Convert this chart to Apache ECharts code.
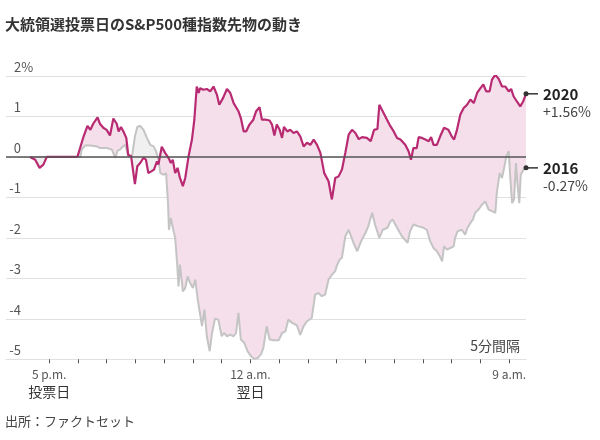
<!DOCTYPE html>
<html>
<head>
<meta charset="utf-8">
<script src="https://cdn.jsdelivr.net/npm/echarts@6/dist/echarts.min.js"></script>
<style>html,body{margin:0;padding:0;background:#fff}#c{width:600px;height:440px}</style>
</head>
<body>
<div id="c"></div>
<script>
// minutes relative to 5 p.m. on election day
const t2020 = [-40,-29,-20,-12,-5,59,72,80,86,92,101,106,113,120,127,134,141,145,150,155,161,165,171,179,184,190,197,202,207,214,219,225,228,235,242,249,254,258,263,268,273,279,284,291,298,303,308,312,315,322,329,336,343,350,355,363,371,378,385,395,400,406,411,418,426,432,439,444,453,460,465,470,475,481,486,490,497,503,510,517,524,531,538,545,552,559,566,574,583,590,597,604,611,618,625,632,639,646,653,663,671,678,685,689,696,705,712,719,726,733,743,750,755,760,767,771,778,785,792,797,802,809,816,824,833,840,845,851,858,865,872,879,886,893,900,906,912,919,924,931,938,945,952,959,964,969,976,983,989,995];
const v2020 = [0,-0.07,-0.27,-0.19,0,0,0.51,0.77,0.67,0.82,0.98,0.82,0.72,0.67,0.53,0.95,0.82,0.63,0.74,0.63,0.47,0.05,0.02,-0.67,-0.23,-0.15,-0.02,-0.07,-0.4,-0.35,-0.31,-0.11,-0.19,0.25,0.1,-0.02,-0.15,-0.07,-0.4,-0.27,-0.52,-0.72,-0.52,0.02,0.43,0.92,1.74,1.58,1.7,1.66,1.68,1.62,1.74,1.54,1.29,1.46,1.68,1.58,1.33,1.13,0.96,0.63,0.63,0.8,0.92,1.13,1.23,0.92,0.92,0.9,0.8,0.53,0.8,0.67,0.47,0.74,0.63,0.67,0.59,0.63,0.51,0.26,0.35,0.3,0.43,0.3,0.1,-0.4,-0.6,-1.05,-0.52,-0.48,-0.31,0.1,0.55,0.67,0.59,0.44,0.49,0.47,0.39,0.67,0.69,1.29,1.13,0.92,0.76,0.63,0.47,0.43,0.3,0.14,-0.07,0.22,0.22,0.49,0.47,0.43,0.39,0.49,0.3,0.3,0.51,0.72,0.67,0.51,0.43,0.67,1.05,1.21,1.29,1.42,1.33,1.58,1.7,1.79,1.62,1.62,1.91,2.03,1.93,1.74,1.74,1.62,1.68,1.5,1.37,1.25,1.37,1.56];
const t2016 = [-40,65,68,75,86,100,106,120,131,138,143,148,154,159,165,173,179,184,190,197,204,211,218,223,228,232,239,244,248,250,254,259,263,267,270,273,279,284,289,294,300,305,310,315,319,324,329,335,340,346,353,360,365,371,378,385,390,395,400,407,414,421,428,435,442,447,454,460,468,479,486,493,499,507,517,524,531,538,548,555,562,569,576,583,590,597,600,606,611,618,625,635,643,651,660,666,674,680,689,696,706,712,717,726,736,748,753,760,769,781,788,795,802,809,815,820,824,830,837,844,847,852,861,868,873,879,884,889,896,903,910,917,924,931,934,940,945,950,954,959,962,966,970,974,977,981,984,990,995];
const v2016 = [0,0,0.18,0.28,0.28,0.26,0.22,0.22,0.18,-0.02,0.16,0.18,0.26,0.3,0.02,0.02,0.51,0.74,0.77,0.67,0.47,0.3,0.26,0.14,-0.07,-0.4,-0.44,-0.4,-1.12,-1.8,-1.51,-1.8,-2.0,-2.62,-3.2,-2.66,-3.32,-3.24,-2.95,-3.11,-3.24,-3.03,-3.52,-3.89,-4.18,-3.77,-4.43,-4.8,-4.35,-4.0,-4.02,-4.43,-4.35,-4.43,-4.39,-4.43,-4.35,-3.85,-4.51,-4.59,-4.8,-4.92,-4.99,-4.97,-4.88,-4.72,-4.18,-4.51,-4.53,-4.53,-4.35,-4.31,-4.02,-4.1,-4.16,-4.4,-4.18,-4.06,-3.98,-3.4,-3.36,-3.44,-3.4,-3.03,-2.91,-2.82,-2.7,-2.54,-2.49,-1.96,-1.8,-2.12,-2.33,-2.08,-1.88,-1.71,-1.38,-1.67,-2.0,-1.8,-1.75,-1.59,-1.55,-1.75,-1.96,-2.12,-1.84,-1.67,-1.71,-1.75,-1.8,-2.08,-2.25,-2.33,-2.45,-2.58,-2.21,-2.29,-2.25,-2.21,-2.0,-1.84,-1.8,-1.92,-1.75,-1.63,-1.55,-1.38,-1.3,-1.18,-1.1,-1.3,-1.34,-1.38,-0.89,-0.4,-0.52,-0.23,0.02,0.14,-0.48,-1.14,-1.05,-0.15,-0.64,-1.14,-0.44,-0.31,-0.27];
const hourTicks = [0,60,120,180,240,300,360,420,480,540,600,660,720,780,840,900,960];
const xLabelValues = [0,420,960];
const xLabelTimes = ['5 p.m.','12 a.m.','9 a.m.'];
const xLabelDays = ['投票日','翌日',''];
const yTickLabels = ['-5','-4','-3','-2','-1','0','1','2%'];
const seriesNames = ['2020','2016'];
const endValues = ['+1.56%','-0.27%'];
const titleText = '大統領選投票日のS&P500種指数先物の動き';
const sourceText = '出所：ファクトセット';
const intervalNote = '5分間隔';

const FONT = "'Noto Sans CJK JP', 'Noto Sans', sans-serif";
const MAGENTA = '#b82a72';
const GRAYLINE = '#c4c4c4';

function interp(ts, vs, t) {
  if (t <= ts[0]) return vs[0];
  for (let i = 1; i < ts.length; i++) {
    if (t <= ts[i]) {
      const f = (t - ts[i-1]) / (ts[i] - ts[i-1]);
      return vs[i-1] + (vs[i] - vs[i-1]) * f;
    }
  }
  return vs[vs.length-1];
}

function buildSamples() {
  const lo = Math.max(t2020[0], t2016[0]);
  const hi = Math.min(t2020[t2020.length-1], t2016[t2016.length-1]);
  const T = Array.from(new Set(t2020.concat(t2016))).filter(t => t >= lo && t <= hi).sort((a,b)=>a-b);
  const S = [];
  T.forEach((t) => {
    const a = interp(t2020, v2020, t), b = interp(t2016, v2016, t);
    if (S.length) {
      const p = S[S.length-1];
      const d0 = p.a - p.b, d1 = a - b;
      if (d0 * d1 < 0) {
        const f = d0 / (d0 - d1);
        const tc = p.t + (t - p.t) * f;
        const ac = p.a + (a - p.a) * f;
        S.push({t: tc, a: ac, b: ac});
      }
    }
    S.push({t, a, b});
  });
  return S;
}

const chart = echarts.init(document.getElementById('c'), null, {renderer: 'canvas'});
const lastIdx20 = t2020.length - 1, lastIdx16 = t2016.length - 1;

function endLabel(i) {
  return {
    show: true,
    distance: 0,
    formatter: '{e|}\n{l|}{a|' + seriesNames[i] + '}\n{b|' + endValues[i] + '}',
    rich: {
      e: {height: 18, lineHeight: 18},
      l: {width: 12, height: 1.5, backgroundColor: '#333'},
      a: {fontFamily: FONT, fontSize: 15, fontWeight: 'bold', color: '#222', padding: [0,0,0,5], lineHeight: 18},
      b: {fontFamily: FONT, fontSize: 14, color: '#444', padding: [0,0,0,17], lineHeight: 18}
    }
  };
}

chart.setOption({
  animation: false,
  backgroundColor: '#fff',
  textStyle: {fontFamily: FONT},
  title: [
    {text: titleText, left: 5, top: 17, padding: 0, textStyle: {fontFamily: FONT, fontSize: 15, fontWeight: 'bold', color: '#333'}},
    {text: sourceText, left: 5, top: 415, padding: 0, textStyle: {fontFamily: FONT, fontSize: 13, fontWeight: 'normal', color: '#444'}},
    {text: intervalNote, right: 80, top: 339, padding: 0, textStyle: {fontFamily: FONT, fontSize: 14, fontWeight: 'normal', color: '#444'}}
  ],
  grid: {left: 6, right: 74, top: 76, bottom: 80.7, containLabel: false},
  xAxis: {
    type: 'value', min: -90, max: 995,
    axisLine: {show: true, onZero: false, lineStyle: {color: '#e0e0e0', width: 1}},
    splitLine: {show: false},
    axisTick: {show: true, customValues: hourTicks, length: 4, lineStyle: {color: '#555', width: 1}},
    axisLabel: {
      show: true, customValues: xLabelValues, margin: 7,
      formatter: function (v) {
        const i = xLabelValues.indexOf(v);
        if (i < 0) return '';
        return '{t|' + xLabelTimes[i] + '}' + (xLabelDays[i] ? '\n{j|' + xLabelDays[i] + '}' : '');
      },
      rich: {
        t: {fontFamily: FONT, fontSize: 12, color: '#555', lineHeight: 16},
        j: {fontFamily: FONT, fontSize: 14, color: '#333', lineHeight: 18}
      }
    }
  },
  yAxis: {
    type: 'value', min: -5, max: 2, interval: 1,
    axisLine: {show: false}, axisTick: {show: false},
    splitLine: {show: true, lineStyle: {color: '#e0e0e0', width: 1}},
    axisLabel: {
      inside: true, margin: 1, align: 'left', verticalAlign: 'bottom', padding: [0,0,2,0],
      formatter: function (v) {
        const s = yTickLabels[v + 5];
        if (s.indexOf('%') >= 0) return '{q|' + s + '}';
        return '{n|' + s + '}';
      },
      rich: {
        n: {fontFamily: FONT, fontSize: 13, color: '#555', width: 14, align: 'right', lineHeight: 14},
        q: {fontFamily: FONT, fontSize: 13, color: '#555', lineHeight: 14, padding: [0,0,0,7]}
      }
    }
  },
  series: [
    {
      type: 'custom', coordinateSystem: 'cartesian2d', silent: true, z: 1, clip: true,
      data: [[t2020[0], v2020[0]]],
      renderItem: function (params, api) {
        const S = buildSamples();
        const top = S.map(s => api.coord([s.t, Math.max(s.a, s.b)]));
        const bot16 = S.map(s => api.coord([s.t, s.b])).reverse();
        const bot20 = S.map(s => api.coord([s.t, s.a])).reverse();
        return {type: 'group', children: [
          {type: 'polygon', shape: {points: top.concat(bot16)}, style: {fill: '#f4dfea'}},
          {type: 'polygon', shape: {points: top.concat(bot20)}, style: {fill: '#f0f0f0'}}
        ]};
      }
    },
    {
      type: 'line', data: [], z: 2, silent: true,
      markLine: {silent: true, symbol: 'none', label: {show: false}, lineStyle: {color: '#555', width: 1.5, type: 'solid'}, data: [{yAxis: 0}]}
    },
    {
      name: seriesNames[1], type: 'line', z: 3,
      data: t2016.map((t, i) => [t, v2016[i]]),
      showSymbol: true,
      symbol: function (v, p) { return p.dataIndex === lastIdx16 ? 'circle' : 'none'; },
      symbolSize: 5,
      itemStyle: {color: '#333'},
      lineStyle: {color: GRAYLINE, width: 2},
      endLabel: endLabel(1)
    },
    {
      name: seriesNames[0], type: 'line', z: 4,
      data: t2020.map((t, i) => [t, v2020[i]]),
      showSymbol: true,
      symbol: function (v, p) { return p.dataIndex === lastIdx20 ? 'circle' : 'none'; },
      symbolSize: 5,
      itemStyle: {color: '#333'},
      lineStyle: {color: MAGENTA, width: 2.2},
      endLabel: endLabel(0)
    }
  ]
});
</script>
</body>
</html>
